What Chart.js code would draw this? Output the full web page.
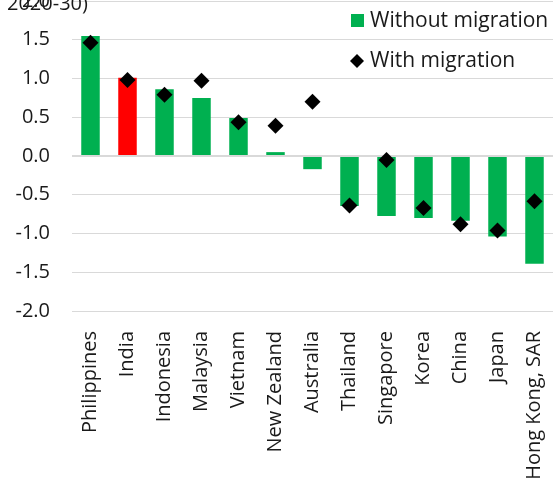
<!DOCTYPE html>
<html>
<head>
<meta charset="utf-8">
<script src="https://cdn.jsdelivr.net/npm/chart.js@4"></script>
<style>
  html, body { margin: 0; padding: 0; background: #fff; overflow: hidden; }
  #wrap { width: 553px; height: 486px; position: relative; }
</style>
</head>
<body>
<div id="wrap"><canvas id="chart"></canvas></div>
<script>
const countries = ["Philippines", "India", "Indonesia", "Malaysia", "Vietnam", "New Zealand", "Australia",
  "Thailand", "Singapore", "Korea", "China", "Japan", "Hong Kong, SAR"]
const withoutMigration = [1.55, 1.01, 0.86, 0.75, 0.49, 0.05, -0.17, -0.645, -0.775, -0.80, -0.835, -1.04, -1.39]
const withMigration = [1.46, 0.98, 0.79, 0.97, 0.435, 0.39, 0.70, -0.64, -0.05, -0.67, -0.88, -0.96, -0.585]
const highlighted = ["India"]
const yTicks = [2.0, 1.5, 1.0, 0.5, 0.0, -0.5, -1.0, -1.5, -2.0]

const GREEN = "#00B050"
const RED = "#FF0000"
const FONT = "'Open Sans', 'Noto Sans', sans-serif"

// leftover heading line above the plot, partly cut by the top edge
const headingPlugin = {
  id: "heading",
  afterDraw(chart) {
    const ctx = chart.ctx
    ctx.save()
    ctx.font = `20px ${FONT}`
    ctx.fillStyle = "#1a1a1a"
    ctx.textBaseline = "alphabetic"
    ctx.textAlign = "left"
    ctx.fillText("2020-30)", 7, 10)
    ctx.restore()
  },
}

// legend sits inside the plot area, top right
const boxLegend = {
  id: "boxLegend",
  afterDraw(chart) {
    const ctx = chart.ctx
    ctx.save()
    ctx.font = `21px ${FONT}`
    ctx.textBaseline = "middle"
    ctx.textAlign = "left"
    ctx.fillStyle = GREEN
    ctx.fillRect(351, 14, 13, 13)
    ctx.fillStyle = "#1a1a1a"
    ctx.fillText("Without migration", 370, 21)
    ctx.beginPath()
    ctx.moveTo(357, 54)
    ctx.lineTo(364, 61)
    ctx.lineTo(357, 68)
    ctx.lineTo(350, 61)
    ctx.closePath()
    ctx.fillStyle = "#000"
    ctx.fill()
    ctx.fillStyle = "#1a1a1a"
    ctx.fillText("With migration", 370, 61)
    ctx.restore()
  },
}

new Chart(document.getElementById("chart"), {
  data: {
    labels: countries,
    datasets: [
      {
        type: "line",
        label: "With migration",
        data: withMigration,
        showLine: false,
        pointStyle: "rectRot",
        pointRadius: 8,
        pointHoverRadius: 8,
        pointBackgroundColor: "#000",
        pointBorderColor: "#000",
        pointBorderWidth: 0,
        order: 0,
        clip: false,
      },
      {
        type: "bar",
        label: "Without migration",
        data: withoutMigration,
        backgroundColor: countries.map((c) => (highlighted.includes(c) ? RED : GREEN)),
        barPercentage: 0.5,
        categoryPercentage: 1.0,
        order: 1,
        clip: false,
      },
    ],
  },
  options: {
    responsive: true,
    maintainAspectRatio: false,
    animation: false,
    layout: { autoPadding: false, padding: { top: 1, right: 0, bottom: 0, left: 0 } },
    plugins: {
      legend: { display: false },
      tooltip: { enabled: false },
    },
    scales: {
      x: {
        offset: true,
        grid: { display: false },
        border: { display: false },
        ticks: {
          color: "#1a1a1a",
          font: { family: FONT, size: 20 },
          minRotation: 90,
          maxRotation: 90,
          autoSkip: false,
          padding: 12,
        },
        afterFit(scale) {
          scale.height = 175
          scale.paddingLeft = 0
          scale.paddingRight = 0
        },
      },
      y: {
        min: -2.0,
        max: 2.0,
        afterBuildTicks(scale) {
          scale.ticks = yTicks.map((v) => ({ value: v }))
        },
        grid: {
          color: "#d9d9d9",
          lineWidth: (c) => (c.tick && c.tick.value === 0 ? 2 : 1),
          drawTicks: false,
        },
        border: { display: false },
        ticks: {
          color: "#1a1a1a",
          font: { family: FONT, size: 20 },
          padding: 22,
          callback: (v) => Number(v).toFixed(1),
        },
        afterFit(scale) {
          scale.width = 72
          scale.paddingTop = 0
          scale.paddingBottom = 0
        },
      },
    },
  },
  plugins: [headingPlugin, boxLegend],
})
</script>
</body>
</html>
